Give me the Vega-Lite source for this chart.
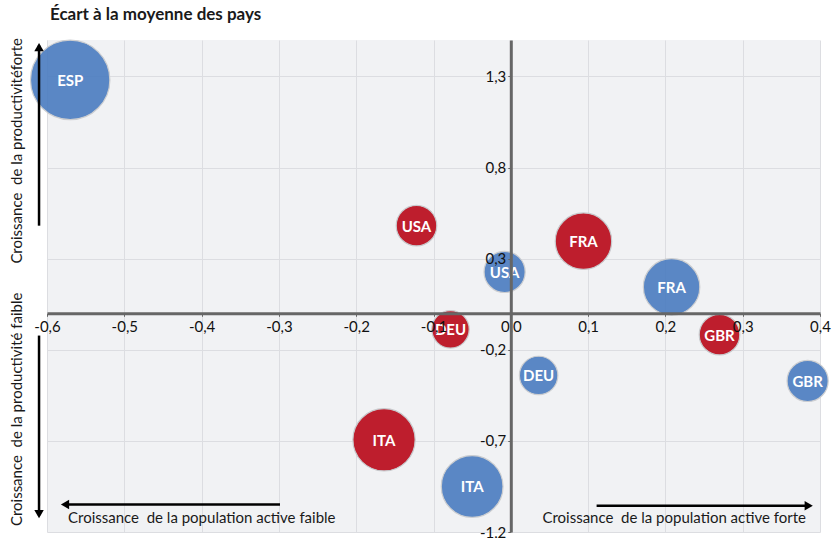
{
  "$schema": "https://vega.github.io/schema/vega-lite/v6.json",
  "width": 773,
  "height": 492,
  "autosize": {"type": "none"},
  "padding": {"left": 47, "top": 40, "right": 19, "bottom": 6},
  "background": "white",
  "title": {
    "text": "Écart à la moyenne des pays",
    "anchor": "start",
    "frame": "group",
    "font": "Lato",
    "fontSize": 17,
    "fontWeight": "bold",
    "color": "#1a1a1a",
    "offset": 14,
    "dx": 3
  },
  "config": {
    "locale": {"number": {"decimal": ",", "thousands": " ", "grouping": [3], "currency": ["", " €"], "minus": "-"}},
    "view": {"fill": "#f1f2f4", "stroke": null},
    "font": "Lato",
    "axis": {
      "gridColor": "#dcdde1",
      "gridWidth": 1,
      "domainColor": "#666666",
      "domainWidth": 3,
      "tickColor": "#666666",
      "tickSize": 3,
      "labelFont": "Lato",
      "labelFontSize": 15,
      "labelColor": "#111111",
      "labelOverlap": false,
      "labelFlush": false,
      "title": null
    }
  },
  "datasets": {
    "bulles": [
      {"pays": "ESP", "serie": "A", "x": -0.570, "y": 1.281, "poids": 2025},
      {"pays": "USA", "serie": "A", "x": -0.008, "y": 0.227, "poids": 543},
      {"pays": "FRA", "serie": "A", "x": 0.208, "y": 0.145, "poids": 1024},
      {"pays": "GBR", "serie": "A", "x": 0.384, "y": -0.371, "poids": 543},
      {"pays": "DEU", "serie": "A", "x": 0.036, "y": -0.341, "poids": 475},
      {"pays": "ITA", "serie": "A", "x": -0.050, "y": -0.950, "poids": 1225},
      {"pays": "USA", "serie": "B", "x": -0.122, "y": 0.481, "poids": 529},
      {"pays": "FRA", "serie": "B", "x": 0.094, "y": 0.396, "poids": 1024},
      {"pays": "GBR", "serie": "B", "x": 0.270, "y": -0.117, "poids": 529},
      {"pays": "DEU", "serie": "B", "x": -0.078, "y": -0.088, "poids": 449},
      {"pays": "ITA", "serie": "B", "x": -0.164, "y": -0.694, "poids": 1246}
    ],
    "fleches": [
      {"x": -0.6103, "y": 0.481, "x2": -0.6103, "y2": 1.47},
      {"x": -0.6103, "y": -0.122, "x2": -0.6103, "y2": -1.11},
      {"x": -0.2986, "y": -1.049, "x2": -0.575, "y2": -1.049},
      {"x": 0.111, "y": -1.056, "x2": 0.383, "y2": -1.056}
    ],
    "pointes": [
      {"x": -0.6103, "y": 1.461, "sens": "haut"},
      {"x": -0.6103, "y": -1.102, "sens": "bas"},
      {"x": -0.5767, "y": -1.049, "sens": "gauche"},
      {"x": 0.3854, "y": -1.056, "sens": "droite"}
    ]
  },
  "resolve": {"axis": {"x": "independent", "y": "independent"}},
  "layer": [
    {
      "data": {"name": "bulles"},
      "mark": {"type": "circle", "stroke": "#c8cacd", "strokeWidth": 1.2},
      "encoding": {
        "x": {
          "field": "x", "type": "quantitative",
          "scale": {"domain": [-0.6, 0.4], "nice": false, "zero": false},
          "axis": {
            "orient": "bottom", "zindex": 0, "grid": true, "labels": false, "domain": false, "ticks": false,
            "values": [-0.6, -0.5, -0.4, -0.3, -0.2, -0.1, 0, 0.1, 0.2, 0.3, 0.4]
          }
        },
        "y": {
          "field": "y", "type": "quantitative",
          "scale": {"domain": [-1.2, 1.5], "nice": false, "zero": false},
          "axis": {
            "orient": "left", "zindex": 0, "grid": true, "labels": false, "domain": false, "ticks": false,
            "values": [-1.2, -0.7, -0.2, 0.3, 0.8, 1.3]
          }
        },
        "size": {"field": "poids", "type": "quantitative", "scale": {"type": "linear", "zero": true, "domain": [0, 2025], "range": [0, 6300]}, "legend": null},
        "color": {"field": "serie", "type": "nominal", "scale": {"domain": ["A", "B"], "range": ["#4a7cc0", "#be1e2d"]}, "legend": null},
        "opacity": {"field": "serie", "type": "nominal", "scale": {"domain": ["A", "B"], "range": [0.9, 1]}, "legend": null}
      }
    },
    {
      "data": {"name": "bulles"},
      "mark": {"type": "text", "color": "white", "font": "Lato", "fontWeight": "bold", "fontSize": 15, "align": "center", "baseline": "middle", "dy": 1},
      "encoding": {
        "x": {
          "field": "x", "type": "quantitative",
          "axis": {
            "orient": "bottom", "offset": -218.7, "zindex": 1, "grid": false,
            "values": [-0.6, -0.5, -0.4, -0.3, -0.2, -0.1, 0, 0.1, 0.2, 0.3, 0.4],
            "format": ".1f", "labelPadding": 3, "labelDx": 4
          }
        },
        "y": {
          "field": "y", "type": "quantitative",
          "axis": {
            "orient": "left", "offset": -463.8, "zindex": 1, "grid": false,
            "values": [-1.2, -0.7, -0.2, 0.3, 0.8, 1.3],
            "format": ".1f", "labelPadding": 2
          }
        },
        "text": {"field": "pays", "type": "nominal"}
      }
    },
    {
      "data": {"name": "fleches"},
      "mark": {"type": "rule", "color": "black", "strokeWidth": 2.5},
      "encoding": {
        "x": {"field": "x", "type": "quantitative", "axis": null},
        "y": {"field": "y", "type": "quantitative", "axis": null},
        "x2": {"field": "x2"},
        "y2": {"field": "y2"}
      }
    },
    {
      "data": {"name": "pointes"},
      "mark": {"type": "point", "filled": true, "color": "black", "opacity": 1, "size": 90},
      "encoding": {
        "x": {"field": "x", "type": "quantitative", "axis": null},
        "y": {"field": "y", "type": "quantitative", "axis": null},
        "shape": {"field": "sens", "type": "nominal", "scale": {"domain": ["haut", "bas", "gauche", "droite"], "range": ["triangle-up", "triangle-down", "triangle-left", "triangle-right"]}, "legend": null}
      }
    },
    {
      "data": {"values": [
        {"x": -0.6388, "y": 0.892, "texte": "Croissance\u00a0 de la productivitéforte"},
        {"x": -0.6388, "y": -0.527, "texte": "Croissance\u00a0 de la productivité faible"}
      ]},
      "mark": {"type": "text", "angle": 270, "align": "center", "baseline": "middle", "font": "Lato", "fontSize": 15, "color": "#1a1a1a"},
      "encoding": {
        "x": {"field": "x", "type": "quantitative", "axis": null},
        "y": {"field": "y", "type": "quantitative", "axis": null},
        "text": {"field": "texte", "type": "nominal"}
      }
    },
    {
      "data": {"values": [
        {"x": -0.5728, "y": -1.124, "texte": "Croissance\u00a0 de la population active faible"}
      ]},
      "mark": {"type": "text", "align": "left", "baseline": "middle", "font": "Lato", "fontSize": 15, "color": "#1a1a1a"},
      "encoding": {
        "x": {"field": "x", "type": "quantitative", "axis": null},
        "y": {"field": "y", "type": "quantitative", "axis": null},
        "text": {"field": "texte", "type": "nominal"}
      }
    },
    {
      "data": {"values": [
        {"x": 0.3819, "y": -1.124, "texte": "Croissance\u00a0 de la population active forte"}
      ]},
      "mark": {"type": "text", "align": "right", "baseline": "middle", "font": "Lato", "fontSize": 15, "color": "#1a1a1a"},
      "encoding": {
        "x": {"field": "x", "type": "quantitative", "axis": null},
        "y": {"field": "y", "type": "quantitative", "axis": null},
        "text": {"field": "texte", "type": "nominal"}
      }
    }
  ]
}
